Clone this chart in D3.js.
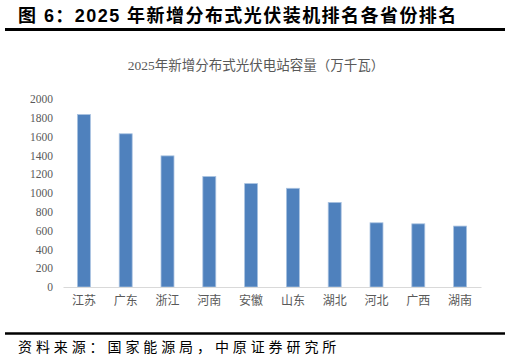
<!DOCTYPE html>
<html>
<head>
<meta charset="utf-8">
<script src="https://cdn.jsdelivr.net/npm/d3@7"></script>
<style>
  body { margin: 0; background: #fff; }
  svg { display: block; }
</style>
</head>
<body>
<svg width="510" height="361"></svg>
<script>
// data
var provinces = ["江苏", "广东", "浙江", "河南", "安徽", "山东", "湖北", "河北", "广西", "湖南"];
var capacity = [1835, 1630, 1395, 1175, 1100, 1050, 900, 683, 672, 648];
var yTicks = [0, 200, 400, 600, 800, 1000, 1200, 1400, 1600, 1800, 2000];

var svg = d3.select("svg");
var cjkSerif = "'Liberation Serif', 'Noto Sans CJK SC', serif";

// **** header ****
svg.append("text")
    .attr("x", 18)
    .attr("y", 22)
    .style("font-family", "'Liberation Sans', 'Noto Sans CJK SC', sans-serif")
    .style("font-size", "18px")
    .style("font-weight", "bold")
    .style("letter-spacing", "1.45px")
    .style("fill", "#000")
    .text("图 6：2025 年新增分布式光伏装机排名各省份排名");

svg.append("line")
    .attr("x1", 5).attr("x2", 505)
    .attr("y1", 29.5).attr("y2", 29.5)
    .style("stroke", "#000")
    .style("stroke-width", 3);

svg.append("text")
    .attr("x", 256)
    .attr("y", 70)
    .attr("text-anchor", "middle")
    .style("font-family", cjkSerif)
    .style("font-size", "13.5px")
    .style("fill", "#595959")
    .text("2025年新增分布式光伏电站容量（万千瓦）");

// **** scales ****
var xScale = d3.scaleBand()
    .domain(provinces)
    .range([63, 481])
    .paddingInner(0.69)
    .paddingOuter(0.345);

var yScale = d3.scaleLinear()
    .domain([0, 2000])
    .range([287, 99]);

// **** bars ****
svg.selectAll("rect.bar")
    .data(provinces)
    .enter()
    .append("rect")
    .attr("class", "bar")
    .attr("x", function(d) { return xScale(d); })
    .attr("y", function(d, i) { return yScale(capacity[i]); })
    .attr("width", xScale.bandwidth())
    .attr("height", function(d, i) { return yScale(0) - yScale(capacity[i]); })
    .style("fill", "#4f81bd")
    .style("stroke", "#a9c2e0")
    .style("stroke-width", 0.8);

// **** axes ****
var yAxis = svg.append("g")
    .attr("transform", "translate(57,0)")
    .call(d3.axisLeft(yScale).tickValues(yTicks).tickFormat(d3.format("d")).tickSize(0).tickPadding(4));
yAxis.select(".domain").remove();
yAxis.selectAll("text")
    .style("font-family", cjkSerif)
    .style("font-size", "11.5px")
    .style("fill", "#595959");

var xAxis = svg.append("g")
    .attr("transform", "translate(0,287)")
    .call(d3.axisBottom(xScale).tickSize(0).tickPadding(9));
xAxis.select(".domain")
    .style("stroke", "#d9d9d9")
    .style("stroke-width", 1);
xAxis.selectAll("text")
    .style("font-family", cjkSerif)
    .style("font-size", "12px")
    .style("fill", "#595959");

// **** footer ****
svg.append("line")
    .attr("x1", 5).attr("x2", 505)
    .attr("y1", 333.5).attr("y2", 333.5)
    .style("stroke", "#000")
    .style("stroke-width", 2.5);

svg.append("text")
    .attr("x", 18)
    .attr("y", 352)
    .style("font-family", cjkSerif)
    .style("font-size", "14px")
    .style("letter-spacing", "3.9px")
    .style("fill", "#000")
    .text("资料来源：国家能源局，中原证券研究所");
</script>
</body>
</html>
